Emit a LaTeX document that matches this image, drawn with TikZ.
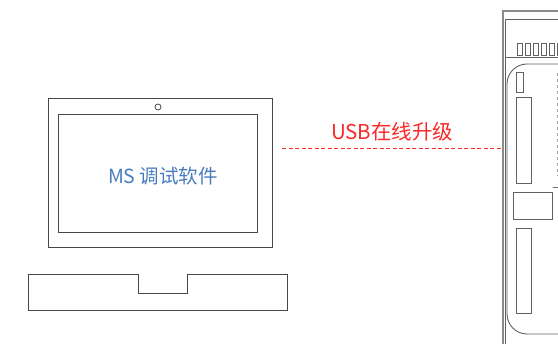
\documentclass[tikz,border=0pt]{standalone}
\usepackage{fontspec}
\setmainfont{Noto Sans CJK SC}
\usepackage{xcolor}
\usetikzlibrary{positioning}

\definecolor{swblue}{RGB}{72,124,190}
\definecolor{usbred}{RGB}{250,40,40}

\begin{document}
\begin{tikzpicture}[x=1pt, y=-1pt,
          frame/.style={draw=black!72, line width=1pt, inner sep=0pt},
          part/.style={draw=black!62, line width=0.9pt, inner sep=0pt},
          link/.style={color=usbred, dash pattern=on 4pt off 2.5pt, line width=1pt}
        ]
          \useasboundingbox (0,0) rectangle (558,344);
          \clip (0,0) rectangle (558,344);

          % Laptop: lid, display, camera
          \node[frame, minimum width=224pt, minimum height=149pt] (lid) at (160,173.5) {};
          \node[frame, minimum width=199pt, minimum height=118pt] (display) at (157.5,174) {};
          \node[frame, circle, minimum size=6pt, line width=0.8pt] (camera) at (158,107) {};
          \node[text=swblue, font=\fontsize{19.5}{22}\selectfont] (software) at (163,176) {MS 调试软件};

          % Laptop base with the notch
          \draw[frame] (28,275) -- (138,275) -- (138,294) -- (187,294) -- (187,275)
                       -- (287,275) -- (287,311) -- (28,311) -- cycle;

          % Device housing
          \node[part, draw=black!45, line width=1.2pt, minimum width=120pt, minimum height=360pt] (housing) at (563,191) {};
          \node[part, minimum width=100pt, minimum height=38pt] (toppanel) at (555.5,38) {};
          \draw[part] (toppanel.south west) -- ++(0,300);
          \foreach \i in {0,...,5}
            \node[part, line width=0.8pt, minimum width=5pt, minimum height=12pt] (key\i) at (520+8*\i,49.5) {};

          % Board inside the housing
          \node[part, rounded corners=20pt, minimum width=113pt, minimum height=270pt] (board) at (563.5,199) {};
          \node[part, minimum width=6.5pt, minimum height=20pt] (slot) at (519.75,82) {};
          \node[part, minimum width=15pt, minimum height=86pt] (railA) at (524,140) {};
          \node[part, minimum width=39pt, minimum height=27pt] (module) at (533,205.5) {};
          \node[part, minimum width=15pt, minimum height=85pt] (railB) at (524,270.5) {};
          \draw[black!35, dash pattern=on 3pt off 3pt, line width=0.8pt] (557,73) -- (557,176);
          \draw[black!55, line width=0.8pt] (553,187) -- (560,187);

          % USB upgrade link
          \coordinate (usbstart) at (282,149);
          \draw[link] (usbstart) -- (usbstart -| housing.west)
            node[midway, above=4pt, text=usbred, font=\fontsize{20.5}{24}\selectfont] (usblabel) {USB在线升级};

        \end{tikzpicture}
\end{document}
